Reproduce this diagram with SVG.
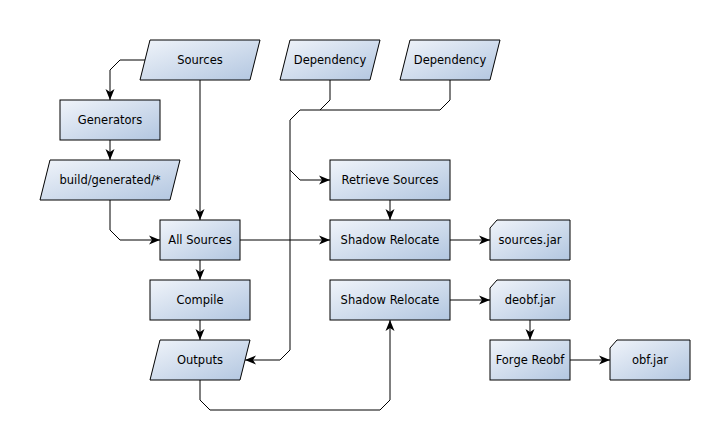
<svg xmlns="http://www.w3.org/2000/svg" width="727" height="448" viewBox="0 0 727 448">
<style>
.n{stroke:#000;stroke-width:1;fill:url(#g)}
.t{font-family:"DejaVu Sans",sans-serif;font-size:11.5px;fill:#000;text-anchor:middle}
.c{fill:none;stroke:#000;stroke-width:1;marker-end:url(#a)}
.p{fill:none;stroke:#000;stroke-width:1}
</style>
<defs>
<linearGradient id="g" x1="0" y1="0" x2="1" y2="1">
<stop offset="0" stop-color="#f0f4fa"/>
<stop offset="1" stop-color="#b2c6e0"/>
</linearGradient>
<marker id="a" markerUnits="userSpaceOnUse" markerWidth="14" markerHeight="12" viewBox="-12 -6 14 12" refX="0" refY="0" orient="auto">
<path d="M0,0 L-11,-4.5 L-8,0 L-11,4.5 Z" fill="#000"/>
</marker>
</defs>
<rect width="727" height="448" fill="#fff"/>
<g id="connectors">
<path class="c" d="M145,60 L120,60 L110,70 L110,100"/>
<path class="c" d="M110,140 L110,160"/>
<path class="c" d="M110,200 L110,230 L120,240 L160,240"/>
<path class="c" d="M200,80 L200,220"/>
<path class="c" d="M200,260 L200,280"/>
<path class="c" d="M200,320 L200,340"/>
<path class="c" d="M200,380 L200,400 L210,410 L380,410 L390,400 L390,320"/>
<path class="c" d="M240,240 L330,240"/>
<path class="p" d="M330,80 L330,100 L320,110"/>
<path class="c" d="M450,80 L450,100 L440,110 L300,110 L290,120 L290,170 L300,180 L330,180"/>
<path class="c" d="M290,170 L290,350 L280,360 L245,360"/>
<path class="c" d="M390,200 L390,220"/>
<path class="c" d="M450,240 L490,240"/>
<path class="c" d="M450,300 L490,300"/>
<path class="c" d="M530,320 L530,340"/>
<path class="c" d="M570,360 L610,360"/>
</g>
<g id="sources"><polygon class="n" points="150,40 260,40 250,80 140,80"/><text class="t" x="200" y="64">Sources</text></g>
<g id="dependency1"><polygon class="n" points="290,40 380,40 370,80 280,80"/><text class="t" x="330" y="64">Dependency</text></g>
<g id="dependency2"><polygon class="n" points="410,40 500,40 490,80 400,80"/><text class="t" x="450" y="64">Dependency</text></g>
<g id="generators"><rect class="n" x="60" y="100" width="100" height="40"/><text class="t" x="110" y="124">Generators</text></g>
<g id="build-generated"><polygon class="n" points="50,160 180,160 170,200 40,200"/><text class="t" x="110" y="184">build/generated/*</text></g>
<g id="retrieve-sources"><rect class="n" x="330" y="160" width="120" height="40"/><text class="t" x="390" y="184">Retrieve Sources</text></g>
<g id="all-sources"><rect class="n" x="160" y="220" width="80" height="40"/><text class="t" x="200" y="244">All Sources</text></g>
<g id="shadow-relocate-1"><rect class="n" x="330" y="220" width="120" height="40"/><text class="t" x="390" y="244">Shadow Relocate</text></g>
<g id="sources-jar"><polygon class="n" points="497,220 570,220 570,260 490,260 490,228"/><text class="t" x="530" y="244">sources.jar</text></g>
<g id="compile"><rect class="n" x="150" y="280" width="100" height="40"/><text class="t" x="200" y="304">Compile</text></g>
<g id="shadow-relocate-2"><rect class="n" x="330" y="280" width="120" height="40"/><text class="t" x="390" y="304">Shadow Relocate</text></g>
<g id="deobf-jar"><polygon class="n" points="497,280 570,280 570,320 490,320 490,288"/><text class="t" x="530" y="304">deobf.jar</text></g>
<g id="outputs"><polygon class="n" points="160,340 250,340 240,380 150,380"/><text class="t" x="200" y="364">Outputs</text></g>
<g id="forge-reobf"><rect class="n" x="490" y="340" width="80" height="40"/><text class="t" x="530" y="364">Forge Reobf</text></g>
<g id="obf-jar"><polygon class="n" points="617,340 690,340 690,380 610,380 610,348"/><text class="t" x="650" y="364">obf.jar</text></g>
</svg>
